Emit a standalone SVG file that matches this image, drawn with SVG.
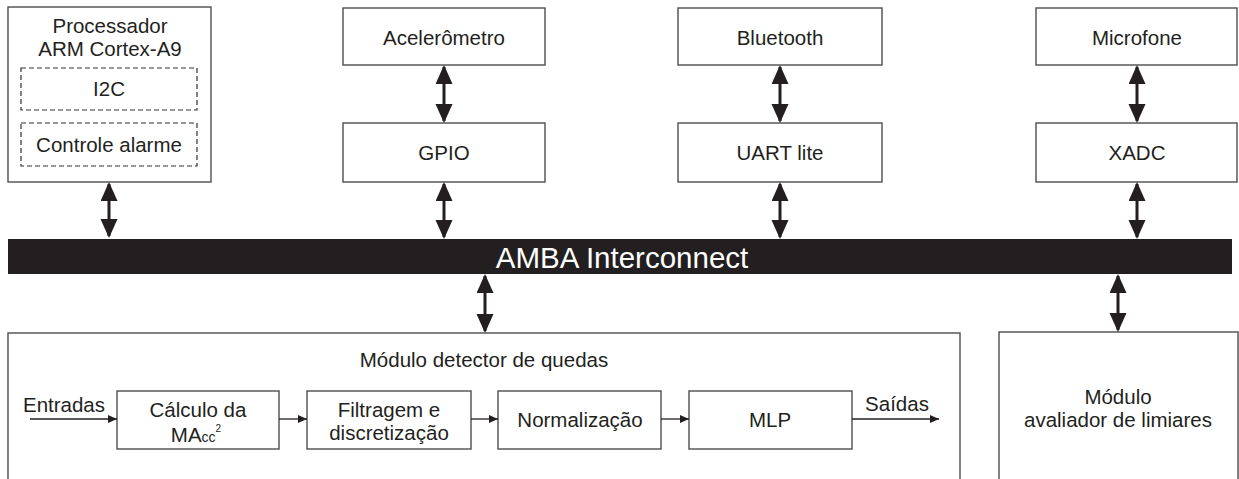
<svg xmlns="http://www.w3.org/2000/svg" width="1239" height="479" viewBox="0 0 1239 479">
<style>
.box{fill:#fff;stroke:#4d4d4d;stroke-width:1.4}
.dash{fill:none;stroke:#333;stroke-width:1.2;stroke-dasharray:5 3}
text{font-family:"Liberation Sans","DejaVu Sans",sans-serif;fill:#231f20;font-size:20.5px;text-anchor:middle}
.big{stroke:#231f20;stroke-width:3;fill:none}
.thin{stroke:#231f20;stroke-width:1.3;fill:none}
</style>
<defs>
<marker id="ah" markerUnits="userSpaceOnUse" markerWidth="20" markerHeight="18" refX="17" refY="8.5" orient="auto-start-reverse" viewBox="0 0 20 18">
<path d="M0,0 L19,8.5 L0,17 z" fill="#231f20"/>
</marker>
<marker id="sa" markerUnits="userSpaceOnUse" markerWidth="10" markerHeight="9" refX="9" refY="4" orient="auto" viewBox="0 0 10 9">
<path d="M0,0 L9,4 L0,8 z" fill="#231f20"/>
</marker>
</defs>

<g id="processador">
<rect class="box" x="8" y="7" width="203" height="175"/>
<text x="110" y="33">Processador</text>
<text x="110" y="56">ARM Cortex-A9</text>
<rect class="dash" x="21" y="68" width="176" height="42"/>
<text x="109" y="96">I2C</text>
<rect class="dash" x="21" y="123" width="176" height="43"/>
<text x="109" y="152">Controle alarme</text>
</g>

<g id="acelerometro">
<rect class="box" x="343" y="8" width="202" height="57"/>
<text x="444" y="45">Acelerômetro</text>
</g>
<g id="gpio">
<rect class="box" x="343" y="123" width="202" height="59"/>
<text x="444" y="160">GPIO</text>
</g>
<g id="bluetooth">
<rect class="box" x="678" y="8" width="204" height="57"/>
<text x="780" y="45">Bluetooth</text>
</g>
<g id="uart">
<rect class="box" x="678" y="123" width="204" height="59"/>
<text x="780" y="160">UART lite</text>
</g>
<g id="microfone">
<rect class="box" x="1036" y="8" width="201" height="57"/>
<text x="1137" y="45">Microfone</text>
</g>
<g id="xadc">
<rect class="box" x="1036" y="123" width="201" height="59"/>
<text x="1137" y="160">XADC</text>
</g>

<g id="amba">
<rect x="8" y="239" width="1224" height="35" fill="#231f20"/>
<text x="622" y="268" style="font-size:29.5px;fill:#fff">AMBA Interconnect</text>
</g>

<g id="detector">
<rect class="box" x="8" y="333" width="952" height="160"/>
<text x="484" y="367">Módulo detector de quedas</text>
<text x="64" y="412">Entradas</text>
<text x="897" y="411">Saídas</text>
</g>
<g id="calculo">
<rect class="box" x="117" y="391" width="162" height="58"/>
<text x="198" y="417">Cálculo da</text>
<text x="196" y="442">MA<tspan style="font-size:14px">cc</tspan><tspan style="font-size:10px" dy="-10">2</tspan></text>
</g>
<g id="filtragem">
<rect class="box" x="307" y="391" width="164" height="58"/>
<text x="389" y="417">Filtragem e</text>
<text x="389" y="440">discretização</text>
</g>
<g id="normalizacao">
<rect class="box" x="498" y="391" width="163" height="58"/>
<text x="580" y="427">Normalização</text>
</g>
<g id="mlp">
<rect class="box" x="689" y="391" width="163" height="58"/>
<text x="770" y="427">MLP</text>
</g>

<g id="avaliador">
<rect class="box" x="999" y="332" width="239" height="160"/>
<text x="1118" y="404">Módulo</text>
<text x="1118" y="427">avaliador de limiares</text>
</g>

<g id="connectors">
<line class="big" x1="109" y1="184" x2="109" y2="236" marker-start="url(#ah)" marker-end="url(#ah)"/>
<line class="big" x1="444" y1="67" x2="444" y2="121" marker-start="url(#ah)" marker-end="url(#ah)"/>
<line class="big" x1="444" y1="184" x2="444" y2="237" marker-start="url(#ah)" marker-end="url(#ah)"/>
<line class="big" x1="780" y1="67" x2="780" y2="121" marker-start="url(#ah)" marker-end="url(#ah)"/>
<line class="big" x1="780" y1="184" x2="780" y2="237" marker-start="url(#ah)" marker-end="url(#ah)"/>
<line class="big" x1="1137" y1="67" x2="1137" y2="121" marker-start="url(#ah)" marker-end="url(#ah)"/>
<line class="big" x1="1137" y1="184" x2="1137" y2="237" marker-start="url(#ah)" marker-end="url(#ah)"/>
<line class="big" x1="485" y1="276" x2="485" y2="331" marker-start="url(#ah)" marker-end="url(#ah)"/>
<line class="big" x1="1118" y1="276" x2="1118" y2="330" marker-start="url(#ah)" marker-end="url(#ah)"/>
<line class="thin" x1="30" y1="419" x2="117" y2="419" marker-end="url(#sa)"/>
<line class="thin" x1="279" y1="419" x2="307" y2="419" marker-end="url(#sa)"/>
<line class="thin" x1="471" y1="419" x2="498" y2="419" marker-end="url(#sa)"/>
<line class="thin" x1="661" y1="419" x2="689" y2="419" marker-end="url(#sa)"/>
<line class="thin" x1="852" y1="419" x2="939" y2="419" marker-end="url(#sa)"/>
</g>
</svg>
